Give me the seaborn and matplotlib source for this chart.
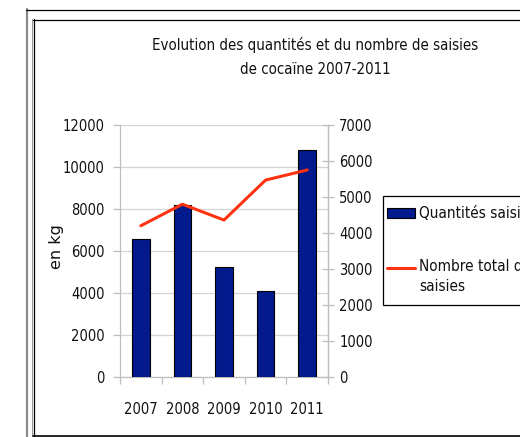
import numpy as np
import pandas as pd
import matplotlib
matplotlib.use("Agg")
import matplotlib.pyplot as plt
from matplotlib.patches import Rectangle
from matplotlib.lines import Line2D
import seaborn as sns

# Data: cocaine seizures 2007-2011
years = ["2007", "2008", "2009", "2010", "2011"]
quantites_kg = [6580, 8200, 5230, 4100, 10800]
nombre_saisies = [4200, 4800, 4360, 5470, 5750]

title_lines = ["Evolution des quantités et du nombre de saisies", "de cocaïne 2007-2011"]
legend_labels = ["Quantités saisies", "Nombre total de\nsaisies"]
ylabel_left = "en kg"

BAR_COLOR = "#031a8c"
LINE_COLOR = "#ff3311"
GRID = "#d4d4d4"
SPINE = "#bdbdbd"
TXT = "#111111"
FS = 10.5

sns.set_theme(style="white")
plt.rcParams["font.family"] = ["DejaVu Sans"]
plt.rcParams["font.stretch"] = "condensed"

W, H = 520, 437
fig = plt.figure(figsize=(W / 100, H / 100), dpi=100)

def fx(px):
    return px / W

def fy(py):
    return 1 - py / H

ax_l, ax_r, ax_t, ax_b = 120, 328, 125, 377
ax = fig.add_axes([fx(ax_l), fy(ax_b), fx(ax_r - ax_l), (ax_b - ax_t) / H])

df = pd.DataFrame({"annee": years, "kg": quantites_kg, "n": nombre_saisies})

sns.barplot(data=df, x="annee", y="kg", ax=ax, color=BAR_COLOR, width=0.42,
            edgecolor="black", linewidth=0.8, saturation=1, zorder=3)
ax.set_xlim(-0.5, len(years) - 0.5)
ax.set_ylim(0, 12000)
ax.set_yticks(np.arange(0, 12001, 2000))
ax.set_yticklabels([str(v) for v in range(0, 12001, 2000)], fontsize=FS)
ax.yaxis.grid(True, color=GRID, linewidth=0.9, zorder=0)
ax.set_axisbelow(True)

# category boundaries as ticks, labels centred on the bars
pos = np.arange(len(years))
ax.set_xticks(list(pos - 0.5) + [len(years) - 0.5])
ax.set_xticklabels([])
ax.set_xticks(pos, minor=True)
ax.set_xticklabels(years, minor=True, fontsize=FS)
ax.tick_params(axis="x", which="major", direction="out", length=5, width=0.9, color=SPINE, bottom=True)
ax.tick_params(axis="x", which="minor", length=0, pad=18, labelcolor=TXT)
ax.tick_params(axis="y", direction="out", length=5, width=0.9, color=SPINE, left=True, pad=6,
               labelcolor=TXT)
ax.set_xlabel("")
ax.set_ylabel("")

ax.spines["top"].set_visible(False)
for side in ["left", "bottom", "right"]:
    ax.spines[side].set_color(SPINE)
    ax.spines[side].set_linewidth(0.9)

ax2 = ax.twinx()
sns.lineplot(x=pos, y=nombre_saisies, ax=ax2, color=LINE_COLOR, linewidth=2.2, zorder=4)
ax2.set_ylim(0, 7000)
ax2.set_yticks(np.arange(0, 7001, 1000))
ax2.set_yticklabels([str(v) for v in range(0, 7001, 1000)], fontsize=FS)
ax2.tick_params(axis="y", direction="inout", length=8, width=0.9, color=SPINE, right=True, pad=4,
                labelcolor=TXT)
ax2.set_ylabel("")
for side in ["top", "left", "bottom"]:
    ax2.spines[side].set_visible(False)
ax2.spines["right"].set_color(SPINE)
ax2.spines["right"].set_linewidth(0.9)

# left axis unit label
fig.text(fx(57), fy(247), ylabel_left, rotation=90, ha="center", va="center",
         fontsize=11.5, family="DejaVu Sans", stretch="normal", color=TXT)

# title
fig.text(fx(315), fy(45), title_lines[0], ha="center", va="center", fontsize=FS + 0.3, color=TXT)
fig.text(fx(315), fy(70), title_lines[1], ha="center", va="center", fontsize=FS + 0.3, color=TXT)

# legend box
fig.patches.append(Rectangle((fx(383), fy(305)), fx(200), (305 - 196) / H, transform=fig.transFigure,
                             facecolor="white", edgecolor="black", linewidth=0.9))
fig.patches.append(Rectangle((fx(387), fy(218)), fx(28), 10 / H, transform=fig.transFigure,
                             facecolor=BAR_COLOR, edgecolor="black", linewidth=0.8))
fig.text(fx(419), fy(214), legend_labels[0], ha="left", va="center", fontsize=FS + 0.5, color=TXT)
fig.lines.append(Line2D([fx(387), fx(415)], [fy(268), fy(268)], transform=fig.transFigure,
                        color=LINE_COLOR, linewidth=2.2))
fig.text(fx(419), fy(259), legend_labels[1], ha="left", va="top", fontsize=FS + 0.5, color=TXT,
         linespacing=1.4)

# chart frames
fig.lines.append(Line2D([fx(26.5), fx(26.5)], [fy(9), 0], transform=fig.transFigure, color="#8a8a8a", linewidth=1.6))
fig.lines.append(Line2D([fx(26), 1], [fy(9.5), fy(9.5)], transform=fig.transFigure, color="black", linewidth=0.9))
fig.lines.append(Line2D([fx(32), fx(32)], [fy(19), 0], transform=fig.transFigure, color="#9a9a9a", linewidth=0.8))
fig.lines.append(Line2D([fx(33.5), fx(33.5)], [fy(19), fy(436)], transform=fig.transFigure, color="black", linewidth=0.9))
fig.lines.append(Line2D([fx(33), 1], [fy(19.5), fy(19.5)], transform=fig.transFigure, color="black", linewidth=0.9))
fig.lines.append(Line2D([fx(33), 1], [fy(436), fy(436)], transform=fig.transFigure, color="black", linewidth=1.2))

fig.savefig("out.png", dpi=100)
